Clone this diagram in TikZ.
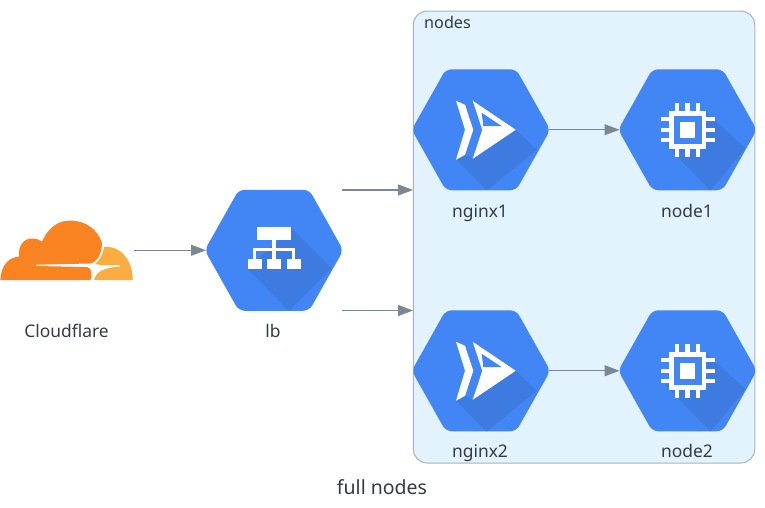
\documentclass[tikz,border=0pt]{standalone}
\usepackage{fontspec}
\setmainfont{Noto Sans}
\usetikzlibrary{arrows.meta}
\definecolor{gblue}{HTML}{4285F4}
\definecolor{gshade}{HTML}{3D7BE0}
\definecolor{cfo}{HTML}{F88320}
\definecolor{cfy}{HTML}{FBAD41}
\definecolor{grpfill}{HTML}{E3F3FD}
\definecolor{grpline}{HTML}{A9B3BB}
\definecolor{edgec}{HTML}{7B8793}
\definecolor{txt}{HTML}{333C43}
\tikzset{
  conn/.style={draw=edgec,line width=1.1pt,-{Triangle[length=15pt,width=11pt]}},
  lab/.style={text=txt,font=\fontsize{17.4}{19}\selectfont,inner sep=0pt,anchor=base},
  hexbox/.style={minimum width=136pt,minimum height=120.5pt,inner sep=0pt,outer sep=0pt},
  ico/.style={fill=white,draw=none}
}
\newcommand{\hexpath}{(-69.3,0) -- (-35.2,-60.5) -- (35.2,-60.5) -- (69.3,0) -- (35.2,60.5) -- (-35.2,60.5) -- cycle}
\newcommand{\hexnode}[4]{%
  \node[hexbox] (#1) at (#2,#3) {};
  \begin{scope}[shift={(#2,#3)}]
    \fill[gblue,rounded corners=6pt] \hexpath;
    \begin{scope}
      \clip[rounded corners=6pt] \hexpath;
      #4
    \end{scope}
  \end{scope}}
\newcommand{\chipicon}{%
  \fill[gshade] (-22,15) -- (23,60.7) -- (58,18.3) -- (18,-18) -- cycle;
  \foreach \p in {-10.5,0,10.5}{
    \fill[white] (\p-2.2,-27) rectangle (\p+2.2,27);
    \fill[white] (-27,\p-2.2) rectangle (27,\p+2.2);}
  \fill[white] (-18.8,-18.8) rectangle (18.8,18.8);
  \fill[gblue] (-14,-14) rectangle (14,14);
  \fill[white] (-7.8,-7.8) rectangle (7.8,7.8);}
\newcommand{\nginxicon}{%
  \fill[gshade] (-25,30) -- (5.7,60.7) -- (55.7,20) -- (34.7,0) -- (-8.3,29) -- (-16,25) -- cycle;
  \fill[white] (-25,-29) -- (-16,-25) -- (-7.7,0) -- (-16,25) -- (-25,30) -- (-16,0) -- cycle;
  \fill[white] (-8.3,-29) -- (34.7,0) -- (-8.3,29) -- (1.3,0) -- cycle;
  \fill[gblue] (0.7,-17) -- (20.7,-3.7) -- (2.3,-3.7) -- cycle;}
\newcommand{\lbicon}{%
  \fill[gshade] (-26,19) -- (15,60.7) -- (57.7,17.8) -- (17,-22.8) -- cycle;
  \fill[white] (-17,-23) rectangle (17.3,-10);
  \fill[white] (-1.7,-10.5) rectangle (1.7,0);
  \fill[white] (-21,-2.2) rectangle (21,1.2);
  \foreach \p in {-19.5,0,19.5}{\fill[white] (\p-1.7,-2) rectangle (\p+1.7,9);}
  \foreach \p in {-19.5,0,19.5}{\fill[white] (\p-7,8.5) rectangle (\p+7,19);}}
\begin{document}
\begin{tikzpicture}[x=1pt,y=-1pt]
\useasboundingbox (0,0) rectangle (765,507);
\fill[white] (0,0) rectangle (765,507);
% group
\node[draw=grpline,fill=grpfill,line width=1pt,rounded corners=14pt,minimum width=341.5pt,minimum height=452pt,inner sep=0pt] (grp) at (584,237) {};
\node[lab,anchor=base west,font=\fontsize{16.2}{18}\selectfont] (grplab) at (424,28) {nodes};
% cloudflare
\node[minimum width=133pt,minimum height=61pt,inner sep=0pt] (cf) at (66.5,250.25) {};
\fill[cfo] (0.3,280) .. controls (1,266) and (8,257.5) .. (19,256.5)
  .. controls (18,245) and (24,238.5) .. (32,238.5)
  .. controls (36,238.5) and (39,239.5) .. (42,241.5)
  .. controls (48,228) and (58,220.5) .. (70,220.5)
  .. controls (86,220.5) and (98,230) .. (102,243)
  .. controls (102,252) and (98,262) .. (90,263.5)
  -- (36,264.7) -- (36,266) -- (87,267)
  .. controls (92,268) and (92.5,275) .. (90.5,280) -- cycle;
\fill[cfy] (104,247) .. controls (120,245) and (133,260) .. (132.7,280)
  -- (94,280) .. controls (96,272) and (103,267.5) .. (120,266.5)
  -- (120,265.3) -- (105,265) .. controls (100,265) and (97,264.5) .. (95,264)
  .. controls (100,260) and (103,254) .. (104,247) -- cycle;
% nodes
\hexnode{lb}{274}{250.25}{\lbicon}
\hexnode{nginxa}{481}{129.75}{\nginxicon}
\hexnode{nodea}{687.5}{129.75}{\chipicon}
\hexnode{nginxb}{481}{370.75}{\nginxicon}
\hexnode{nodeb}{687.5}{370.75}{\chipicon}
% labels
\node[lab] (cflab) at (66.5,337) {Cloudflare};
\node[lab] (lblab) at (273,337) {lb};
\node[lab] (nalab) at (480,217) {nginx1};
\node[lab] (nlab) at (687,217) {node1};
\node[lab] (nblab) at (480,457) {nginx2};
\node[lab] (nbbl) at (687,457) {node2};
\node[lab,font=\fontsize{19.5}{22}\selectfont] (title) at (382,494) {full nodes};
% connectors
\coordinate (cfout) at (134,250.25);
\draw[conn] (cfout) -- (lb.west);
\draw[conn] (lb.north east) -- (nginxa.south west);
\draw[conn] (lb.south east) -- (nginxb.north west);
\draw[conn] (nginxa.east) -- (nodea.west);
\draw[conn] (nginxb.east) -- (nodeb.west);
\end{tikzpicture}
\end{document}
